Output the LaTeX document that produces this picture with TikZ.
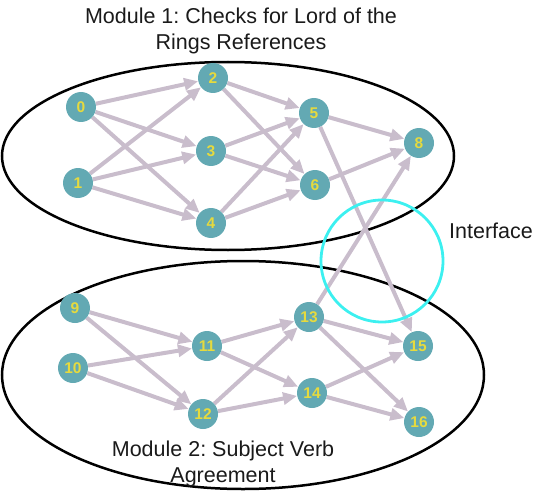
\documentclass[tikz,border=0pt]{standalone}
\usepackage{fontspec}
\setmainfont{Liberation Sans}
\frenchspacing
\usetikzlibrary{arrows.meta,shapes.geometric}
\definecolor{nodefill}{HTML}{63A9B3}
\definecolor{numcol}{HTML}{E6DA3E}
\definecolor{edgecol}{HTML}{C9BDCC}
\definecolor{ifacecol}{HTML}{3CF0F0}
\definecolor{txtcol}{HTML}{1A1A1A}
\pgfdeclarelayer{bg}
\pgfdeclarelayer{edges}
\pgfdeclarelayer{fg}
\pgfsetlayers{bg,edges,main,fg}
\tikzset{
  nn/.style={circle, fill=nodefill, minimum size=30pt, inner sep=0pt,
    text=numcol, font=\fontsize{15.5}{16}\selectfont\bfseries},
  conn/.style={draw=edgecol, line width=4pt,
    -{Triangle[length=14pt, width=12pt]}},
  modline/.style={draw=black, line width=2.5pt},
  lbl/.style={font=\fontsize{21.5}{26}\selectfont, text=txtcol, align=center, inner sep=0pt}
}
\begin{document}
\begin{tikzpicture}[x=1pt,y=-1pt]
\useasboundingbox (0,0) rectangle (535,492);
% nodes
\node[nn] (n0) at (81,107) {0};
\node[nn] (n1) at (78,183) {1};
\node[nn] (n2) at (213,78) {2};
\node[nn] (n3) at (211,151) {3};
\node[nn] (n4) at (211,223) {4};
\node[nn] (n5) at (314,113) {5};
\node[nn] (n6) at (315,185) {6};
\node[nn] (n8) at (419,143) {8};
\node[nn] (n9) at (75,308) {9};
\node[nn] (n10) at (73,368) {10};
\node[nn] (n11) at (207,346) {11};
\node[nn] (n12) at (203,414) {12};
\node[nn] (n13) at (309,317) {13};
\node[nn] (n14) at (312,393) {14};
\node[nn] (n15) at (418,346) {15};
\node[nn] (n16) at (419,422) {16};
% module ellipses
\begin{pgfonlayer}{bg}
\node[modline, ellipse, minimum width=452pt, minimum height=188pt, inner sep=0pt] (m1) at (228,156) {};
\node[modline, ellipse, minimum width=482pt, minimum height=228pt, inner sep=0pt] (m2) at (243,375) {};
\end{pgfonlayer}
% edges
\begin{pgfonlayer}{edges}
\foreach \a/\b in {n0/n2,n0/n3,n0/n4,n1/n2,n1/n3,n1/n4,
  n2/n5,n2/n6,n3/n5,n3/n6,n4/n5,n4/n6,n5/n8,n6/n8,n5/n15,n13/n8,
  n9/n11,n9/n12,n10/n11,n10/n12,n11/n13,n11/n14,n12/n13,n12/n14,
  n13/n15,n13/n16,n14/n15,n14/n16}
  \draw[conn] (\a) -- (\b);
\end{pgfonlayer}
% interface
\begin{pgfonlayer}{fg}
\node[circle, draw=ifacecol, line width=2.8pt, minimum size=122pt, inner sep=0pt] (iface) at (382,261) {};
\end{pgfonlayer}
% labels
\node[lbl] (t1) at (241,31) {Module 1: Checks for Lord of the\\Rings References};
\node[lbl, anchor=west] (t3) at (449,231) {Interface};
\node[lbl] (t2) at (223,464) {Module 2: Subject Verb\\Agreement};
\end{tikzpicture}
\end{document}
